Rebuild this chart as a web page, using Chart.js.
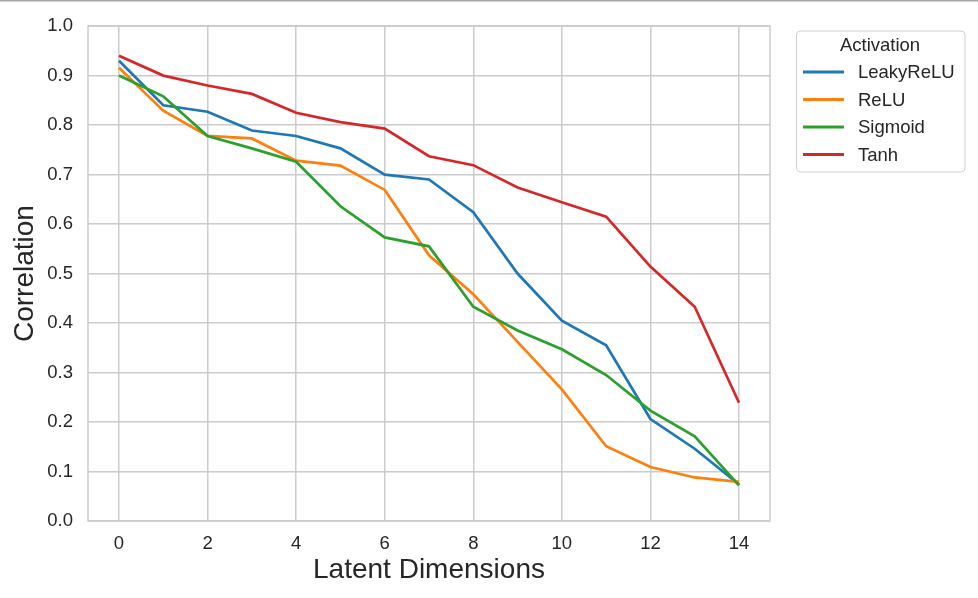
<!DOCTYPE html>
<html>
<head>
<meta charset="utf-8">
<script src="https://cdn.jsdelivr.net/npm/chart.js@4.4.1/dist/chart.umd.min.js"></script>
<style>
  html, body { margin: 0; padding: 0; background: #fff; }
  #wrap { width: 978px; height: 598px; position: relative; }
</style>
</head>
<body>
<div id="wrap"><canvas id="corrChart" width="978" height="598"></canvas></div>
<script>
// data
const dims = [0, 1, 2, 3, 4, 5, 6, 7, 8, 9, 10, 11, 12, 13, 14];
const leakyRelu = [0.930, 0.840, 0.827, 0.789, 0.778, 0.753, 0.700, 0.690, 0.624, 0.500, 0.405, 0.355, 0.206, 0.146, 0.074];
const relu      = [0.916, 0.829, 0.778, 0.773, 0.728, 0.718, 0.669, 0.537, 0.458, 0.362, 0.266, 0.151, 0.109, 0.088, 0.079];
const sigmoid   = [0.900, 0.858, 0.778, 0.753, 0.726, 0.636, 0.573, 0.555, 0.433, 0.385, 0.347, 0.295, 0.223, 0.171, 0.072];
const tanh      = [0.940, 0.900, 0.880, 0.863, 0.825, 0.806, 0.793, 0.737, 0.719, 0.674, 0.644, 0.615, 0.514, 0.433, 0.239];
const seriesNames = ['LeakyReLU', 'ReLU', 'Sigmoid', 'Tanh'];
const xTicks = [0, 2, 4, 6, 8, 10, 12, 14];
const yTicks = [0.0, 0.1, 0.2, 0.3, 0.4, 0.5, 0.6, 0.7, 0.8, 0.9, 1.0];

const colors = ['#1f77b4', '#ff7f0e', '#2ca02c', '#d62728'];
const textColor = '#262626';
const gridColor = '#cccccc';
const fontFamily = '"Liberation Sans", Arial, Helvetica, sans-serif';

function toPoints(vals) {
  return vals.map((v, i) => ({ x: dims[i], y: v }));
}

const allSeries = [leakyRelu, relu, sigmoid, tanh];

// frame around the plot + the legend box on the right + thin top line
const framePlugin = {
  id: 'frame',
  afterDraw(chart) {
    const c = chart.ctx;
    const a = chart.chartArea;
    c.save();
    c.fillStyle = '#a8a8a8';
    c.fillRect(0, 0, chart.width, 1.5);
    c.strokeStyle = gridColor;
    c.lineWidth = 1.5;
    c.strokeRect(a.left, a.top, a.right - a.left, a.bottom - a.top);

    // legend
    const bx = 796.5, by = 31, bw = 168.5, bh = 141;
    c.beginPath();
    c.roundRect(bx, by, bw, bh, 4);
    c.fillStyle = 'rgba(255,255,255,0.8)';
    c.fill();
    c.strokeStyle = '#d0d0d0';
    c.lineWidth = 1;
    c.stroke();

    c.fillStyle = textColor;
    c.font = '18.5px ' + fontFamily;
    c.textAlign = 'center';
    c.textBaseline = 'middle';
    c.fillText('Activation', 880, 46);

    c.textAlign = 'left';
    seriesNames.forEach((name, i) => {
      const y = 72 + i * 27.5;
      c.strokeStyle = colors[i];
      c.lineWidth = 2.8;
      c.beginPath();
      c.moveTo(803, y);
      c.lineTo(844, y);
      c.stroke();
      c.fillStyle = textColor;
      c.fillText(name, 858, y + 1);
    });
    c.restore();
  }
};

const ctx = document.getElementById('corrChart').getContext('2d');
const corrChart = new Chart(ctx, {
  type: 'line',
  data: {
    datasets: seriesNames.map((name, i) => ({
      label: name,
      data: toPoints(allSeries[i]),
      borderColor: colors[i],
      backgroundColor: colors[i],
      borderWidth: 2.7,
      pointRadius: 0,
      tension: 0,
      fill: false,
      order: 4 - i
    }))
  },
  options: {
    responsive: false,
    animation: false,
    devicePixelRatio: 1,
    layout: { padding: { top: 22, right: 208, left: 0, bottom: 0 } },
    plugins: {
      legend: { display: false },
      tooltip: { enabled: false }
    },
    scales: {
      x: {
        type: 'linear',
        min: -0.7,
        max: 14.7,
        afterBuildTicks: (scale) => { scale.ticks = xTicks.map(v => ({ value: v })); },
        afterFit: (scale) => { scale.height = 77; },
        grid: { color: gridColor, lineWidth: 1.5, drawTicks: false },
        border: { display: false },
        ticks: {
          color: textColor,
          padding: 12,
          font: { family: fontFamily, size: 18.5 },
          callback: (v) => String(v)
        },
        title: {
          display: true,
          text: 'Latent Dimensions',
          color: textColor,
          font: { family: fontFamily, size: 28 },
          padding: { top: 0, bottom: 11 }
        }
      },
      y: {
        type: 'linear',
        min: 0,
        max: 1,
        afterBuildTicks: (scale) => { scale.ticks = yTicks.map(v => ({ value: v })); },
        afterFit: (scale) => { scale.width = 88; },
        grid: { color: gridColor, lineWidth: 1.5, drawTicks: false },
        border: { display: false },
        ticks: {
          color: textColor,
          padding: 15,
          font: { family: fontFamily, size: 18.5 },
          callback: (v) => Number(v).toFixed(1)
        },
        title: {
          display: true,
          text: 'Correlation',
          color: textColor,
          font: { family: fontFamily, size: 28 },
          padding: { top: 8, bottom: 0 }
        }
      }
    }
  },
  plugins: [framePlugin]
});
</script>
</body>
</html>
